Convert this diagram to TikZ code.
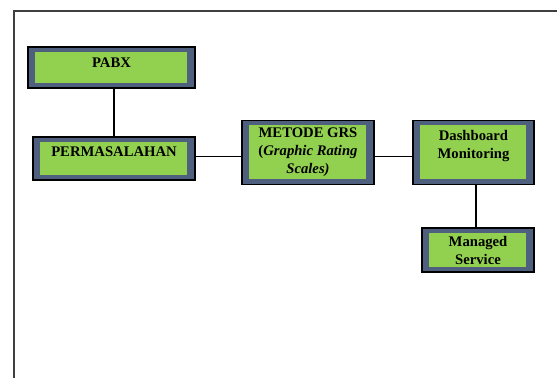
\documentclass[tikz,border=0pt]{standalone}
\usepackage{fontspec}
\setmainfont{Liberation Serif}
\definecolor{boxgreen}{HTML}{92D050}
\definecolor{boxslate}{HTML}{4F607E}
\tikzset{
    block/.style={draw=black, line width=1.1pt, fill=boxslate, align=center,
        inner sep=0pt, font=\bfseries\fontsize{11}{13.5}\selectfont,
        path picture={\fill[boxgreen] ([xshift=5.25pt,yshift=-3.75pt]path picture bounding box.north west)
            rectangle ([xshift=-6pt,yshift=3.75pt]path picture bounding box.south east);}},
    link/.style={line width=0.9pt}
}
\begin{document}
\begin{tikzpicture}[x=0.75pt,y=-0.75pt]
        \useasboundingbox (0,0) rectangle (557,378);
        %\draw[very thin,color=gray] (0,0) grid[step=50] (557,378);
        \draw[line width=1.3pt,color=black!75] (14,378) -- (14,11) -- (557,11);
        \node[block, minimum width=125.25pt, minimum height=30.75pt, text depth=8pt] (pabx) at (111.5,67.5) {PABX};
        \node[block, minimum width=121.5pt, minimum height=32.25pt, text depth=10pt] (perm) at (114,158.5) {PERMASALAHAN};
        \node[block, minimum width=99pt, minimum height=48pt] (grs) at (308,152.3) {METODE GRS\\(\textit{Graphic Rating}\\\textit{Scales)}};
        \node[block, minimum width=90.75pt, minimum height=48pt, text depth=12pt] (dash) at (473.5,152.3) {Dashboard\\Monitoring};
        \node[block, minimum width=84pt, minimum height=33pt] (msvc) at (478,250) {Managed\\Service};
        \draw[link] (perm.north) -- (perm.north |- pabx.south);
        \draw[link] ([yshift=1.5pt]perm.east) -- ([yshift=1.5pt]perm.east -| grs.west);
        \draw[link] ([yshift=-3pt]grs.east) -- ([yshift=-3pt]dash.west);
        \draw[link] ([xshift=-1.5pt]msvc.north) -- ([xshift=-1.5pt]msvc.north |- dash.south);
    \end{tikzpicture}
\end{document}
